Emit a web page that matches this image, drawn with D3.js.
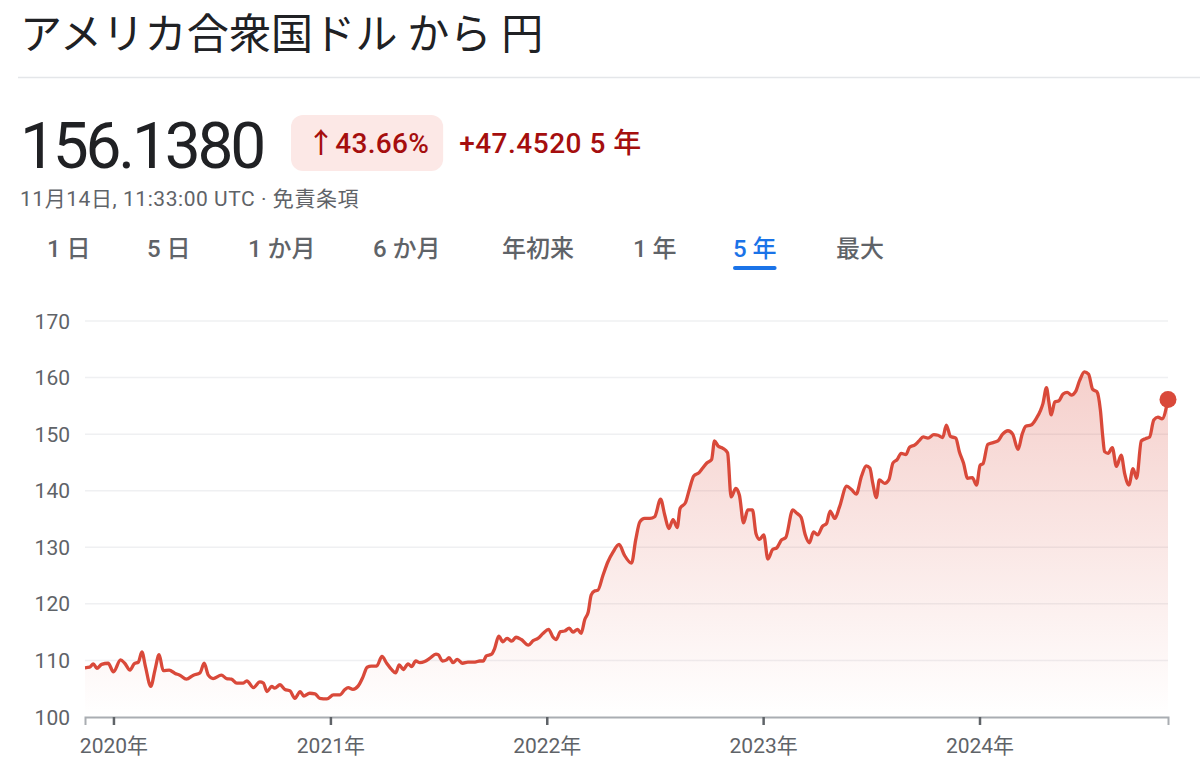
<!DOCTYPE html>
<html><head><meta charset="utf-8">
<script src="https://cdn.jsdelivr.net/npm/d3@7"></script>
<style>
body{margin:0;background:#fff;}
svg text{font-family:Roboto,"Noto Sans CJK JP",sans-serif;}
</style></head><body>
<svg id="c" width="1200" height="775"></svg>
<script>
// ---------- data ----------
const title = "アメリカ合衆国ドル から 円";
const price = "156.1380";
const changePct = "↑43.66%";
const changeAbs = "+47.4520 5 年";
const timestamp = "11月14日, 11:33:00 UTC · 免責条項";
const tabs = ["1 日","5 日","1 か月","6 か月","年初来","1 年","5 年","最大"];
const selectedTab = "5 年";
const yTicks = [100,110,120,130,140,150,160,170];
const xTickDates = ["2020-01-01","2021-01-01","2022-01-01","2023-01-01","2024-01-01"];
const xTickLabels = ["2020年","2021年","2022年","2023年","2024年"];

const dates = [
"2019-11-14","2019-11-22","2019-11-28","2019-12-04","2019-12-12","2019-12-23",
"2020-01-01","2020-01-13","2020-01-20","2020-01-29","2020-02-05","2020-02-12","2020-02-18","2020-02-24",
"2020-03-04","2020-03-11","2020-03-18","2020-03-25","2020-04-04","2020-04-14","2020-04-22","2020-05-03",
"2020-05-15","2020-05-26","2020-06-02","2020-06-09","2020-06-17","2020-07-01","2020-07-10","2020-07-18",
"2020-07-27","2020-08-07","2020-08-13","2020-08-24","2020-09-04","2020-09-10","2020-09-16","2020-09-24",
"2020-09-29","2020-10-08","2020-10-16","2020-10-25","2020-11-02","2020-11-11","2020-11-17","2020-11-27",
"2020-12-06","2020-12-14","2020-12-26",
"2021-01-06","2021-01-17","2021-01-25","2021-01-31","2021-02-08","2021-02-17","2021-02-25","2021-03-04",
"2021-03-11","2021-03-20","2021-03-29","2021-04-06","2021-04-14","2021-04-21","2021-04-27","2021-05-04",
"2021-05-12","2021-05-18","2021-05-25","2021-06-01","2021-06-09","2021-06-18","2021-06-28","2021-07-02",
"2021-07-09","2021-07-16","2021-07-20","2021-07-27","2021-08-03","2021-08-12","2021-08-21","2021-09-02",
"2021-09-10","2021-09-16","2021-09-21","2021-09-30","2021-10-05","2021-10-12","2021-10-19","2021-10-26",
"2021-11-03","2021-11-10","2021-11-19","2021-12-01","2021-12-09","2021-12-17","2021-12-26",
"2022-01-04","2022-01-11","2022-01-17","2022-01-24","2022-01-31","2022-02-08","2022-02-14","2022-02-22",
"2022-02-28","2022-03-06","2022-03-12","2022-03-17","2022-03-23","2022-03-28","2022-04-06","2022-04-14",
"2022-04-23","2022-05-03","2022-05-12","2022-05-24","2022-05-31","2022-06-07","2022-06-15","2022-06-24",
"2022-07-02","2022-07-12","2022-07-19","2022-07-26","2022-08-02","2022-08-09","2022-08-14","2022-08-23",
"2022-08-30","2022-09-06","2022-09-15","2022-09-21","2022-09-28","2022-10-06","2022-10-11","2022-10-17",
"2022-10-25","2022-11-02","2022-11-08","2022-11-16","2022-11-22","2022-11-29","2022-12-06","2022-12-14",
"2022-12-20","2022-12-26",
"2023-01-02","2023-01-09","2023-01-17","2023-01-24","2023-02-01","2023-02-08","2023-02-20","2023-02-27",
"2023-03-06","2023-03-13","2023-03-20","2023-03-27","2023-04-03","2023-04-11","2023-04-18","2023-04-24",
"2023-05-02","2023-05-10","2023-05-22","2023-05-30","2023-06-07","2023-06-16","2023-06-24","2023-06-30",
"2023-07-05","2023-07-11","2023-07-16","2023-07-25","2023-08-01","2023-08-08","2023-08-15","2023-08-22",
"2023-08-30","2023-09-05","2023-09-14","2023-09-21","2023-09-28","2023-10-06","2023-10-16","2023-10-23",
"2023-10-31","2023-11-06","2023-11-13","2023-11-22","2023-11-28","2023-12-05","2023-12-12","2023-12-20",
"2023-12-27",
"2024-01-02","2024-01-07","2024-01-15","2024-01-24","2024-02-01","2024-02-09","2024-02-18","2024-02-26",
"2024-03-06","2024-03-13","2024-03-19","2024-03-28","2024-04-06","2024-04-13","2024-04-17","2024-04-23",
"2024-04-27","2024-05-01","2024-05-07","2024-05-14","2024-05-21","2024-05-28","2024-06-04","2024-06-11",
"2024-06-18","2024-06-26","2024-07-03","2024-07-10","2024-07-17","2024-07-23","2024-07-27","2024-07-30",
"2024-08-05","2024-08-12","2024-08-19","2024-08-27","2024-09-02","2024-09-09","2024-09-16","2024-09-22",
"2024-09-30","2024-10-07","2024-10-14","2024-10-21","2024-10-28","2024-11-04","2024-11-14"
];
const values = [
108.7,108.8,109.4,108.6,109.3,109.5,
108.0,110.1,109.5,108.3,109.4,109.7,111.5,108.9,
105.4,108.3,111.0,108.2,108.3,107.7,107.4,106.7,
107.4,107.8,109.5,107.4,106.8,107.4,106.8,106.7,
106.0,106.0,106.4,105.2,106.2,106.0,104.5,105.4,
105.1,105.7,104.9,104.6,103.3,104.5,103.7,104.2,
104.1,103.3,103.2,
103.9,103.9,104.8,105.2,104.9,105.5,107.1,108.8,
109.0,109.0,110.7,109.5,108.4,107.8,109.2,108.4,
109.4,108.9,109.9,109.6,109.8,110.4,111.1,111.0,
109.9,110.1,110.5,109.6,110.2,109.5,109.7,109.7,
109.9,109.9,110.8,111.1,112.1,114.3,113.3,113.9,
113.4,114.1,113.7,112.7,113.5,113.9,114.8,
115.5,114.2,113.7,115.1,115.2,115.7,115.0,115.5,
114.8,117.2,118.6,121.6,122.3,122.4,125.1,127.4,
129.2,130.5,128.6,127.2,131.3,134.5,135.1,135.1,
135.4,138.5,135.7,133.3,134.9,133.5,136.9,137.9,
140.4,142.6,143.2,144.0,144.9,145.5,148.8,147.9,
147.5,146.7,138.9,140.4,139.2,134.3,136.6,136.6,
132.4,131.4,
132.2,127.9,129.6,129.9,131.3,131.7,136.6,136.0,
135.3,132.2,130.8,132.7,132.2,133.7,134.2,136.4,
135.1,137.2,140.8,140.2,139.4,142.6,144.4,144.0,
141.3,138.8,141.9,141.3,141.9,144.9,145.5,146.6,
146.4,147.7,148.1,148.8,149.5,149.3,149.9,149.8,
149.4,151.6,149.6,149.3,146.9,144.9,142.2,142.3,
141.0,
144.5,144.8,148.2,148.5,148.8,150.0,150.6,150.0,
147.3,150.0,151.4,151.6,152.8,154.2,155.4,158.2,
155.7,153.4,155.7,155.9,157.1,157.4,156.9,157.5,
159.5,161.0,160.6,157.9,157.5,154.2,149.5,146.9,
146.6,147.6,144.3,146.3,143.0,141.0,143.9,142.2,
148.8,149.2,149.5,152.5,153.0,152.7,156.138
];

// ---------- layout ----------
const W = 1200, H = 775;
const plot = {left: 85, right: 1168, top: 321, bottom: 717};
const tabX = [47,147,248,373,502,633,733,836];
const lineColor = "#d9493a";
const gray = "#5f6368";
const dark = "#202124";
const upColor = "#a50e0e";
const blue = "#1a73e8";

const svg = d3.select("#c");
const parse = d3.utcParse("%Y-%m-%d");
const data = dates.map((d,i)=>({date: parse(d), value: values[i]}));

// header
svg.append("text").attr("x",20).attr("y",49)
  .style("font-family","'Noto Sans CJK JP',sans-serif")
  .attr("font-size",42).attr("letter-spacing",0.2).attr("fill",dark).text(title);
svg.append("line").attr("x1",18).attr("x2",W).attr("y1",77.5).attr("y2",77.5)
  .attr("stroke","#e4e6e9").attr("stroke-width",1.5);

svg.append("text").attr("x",20).attr("y",168)
  .attr("font-size",64).attr("fill",dark).attr("letter-spacing",-3.2).text(price);

const badgeX = 291;
const badge = svg.append("g");
const badgeRect = badge.append("rect").attr("x",badgeX).attr("y",115).attr("height",56).attr("rx",12)
  .attr("fill","#fce8e6");
const pctT = badge.append("text").attr("x",badgeX+16).attr("y",153)
  .attr("font-size",28).attr("font-weight",500).attr("letter-spacing",0.3).attr("fill",upColor).text(changePct);
const pw = pctT.node().getComputedTextLength();
badgeRect.attr("width", pw + 30);
svg.append("text").attr("x",badgeX + pw + 30 + 16).attr("y",153)
  .attr("font-size",28).attr("font-weight",500).attr("letter-spacing",0.5).attr("fill",upColor).text(changeAbs);

svg.append("text").attr("x",20).attr("y",206)
  .attr("font-size",21).attr("letter-spacing",0.55).attr("fill",gray).text(timestamp);

// tabs
tabs.forEach((t,i)=>{
  const sel = t===selectedTab;
  const el = svg.append("text").attr("x",tabX[i]).attr("y",257)
    .attr("font-size",24).attr("font-weight",500)
    .attr("fill", sel?blue:gray).text(t);
  const w = el.node().getComputedTextLength();
  if(sel){
    svg.append("rect").attr("x",tabX[i]).attr("y",266).attr("width",w).attr("height",4)
      .attr("rx",2).attr("fill",blue);
  }
});

// scales
const x = d3.scaleUtc().domain(d3.extent(data,d=>d.date)).range([plot.left, plot.right]);
const y = d3.scaleLinear().domain([100,170]).range([plot.bottom, plot.top]);

// grid
svg.append("g").selectAll("line").data(yTicks.filter(v=>v>100)).join("line")
  .attr("x1",plot.left).attr("x2",plot.right)
  .attr("y1",d=>y(d)).attr("y2",d=>y(d))
  .attr("stroke","#eff0f2").attr("stroke-width",1.5);

// y labels
svg.append("g").selectAll("text").data(yTicks).join("text")
  .attr("x",70).attr("y",d=>y(d)).attr("dy","0.36em")
  .attr("text-anchor","end").attr("font-size",21).attr("fill",gray)
  .text(d=>d);

// gradient
const defs = svg.append("defs");
const grad = defs.append("linearGradient").attr("id","g1")
  .attr("gradientUnits","userSpaceOnUse")
  .attr("x1",0).attr("x2",0).attr("y1",y(d3.max(values))).attr("y2",plot.bottom);
grad.append("stop").attr("offset","0%").attr("stop-color",lineColor).attr("stop-opacity",0.26);
grad.append("stop").attr("offset","100%").attr("stop-color",lineColor).attr("stop-opacity",0.0);

const curve = d3.curveMonotoneX;
const area = d3.area().x(d=>x(d.date)).y0(plot.bottom).y1(d=>y(d.value)).curve(curve);
const line = d3.line().x(d=>x(d.date)).y(d=>y(d.value)).curve(curve);

svg.append("path").datum(data).attr("d",area).attr("fill","url(#g1)");

// x axis
const xAxis = d3.axisBottom(x)
  .tickValues(xTickDates.map(parse))
  .tickFormat((d,i)=>xTickLabels[i])
  .tickSizeOuter(0).tickSize(8).tickPadding(13);
const ax = svg.append("g").attr("transform",`translate(0,${plot.bottom})`).call(xAxis);
ax.select(".domain").attr("stroke","#a9adb2").attr("stroke-width",2);
ax.selectAll(".tick line").attr("stroke",gray).attr("stroke-width",2.5);
ax.selectAll(".tick text").attr("fill",gray).attr("font-size",21)
  .style("font-family","Roboto,'Noto Sans CJK JP',sans-serif");

svg.append("path").datum(data).attr("d",line).attr("fill","none")
  .attr("stroke",lineColor).attr("stroke-width",3.3).attr("stroke-linejoin","round");

const last = data[data.length-1];
svg.append("circle").attr("cx",x(last.date)).attr("cy",y(last.value)).attr("r",8.5)
  .attr("fill",lineColor);
</script>
</body></html>
